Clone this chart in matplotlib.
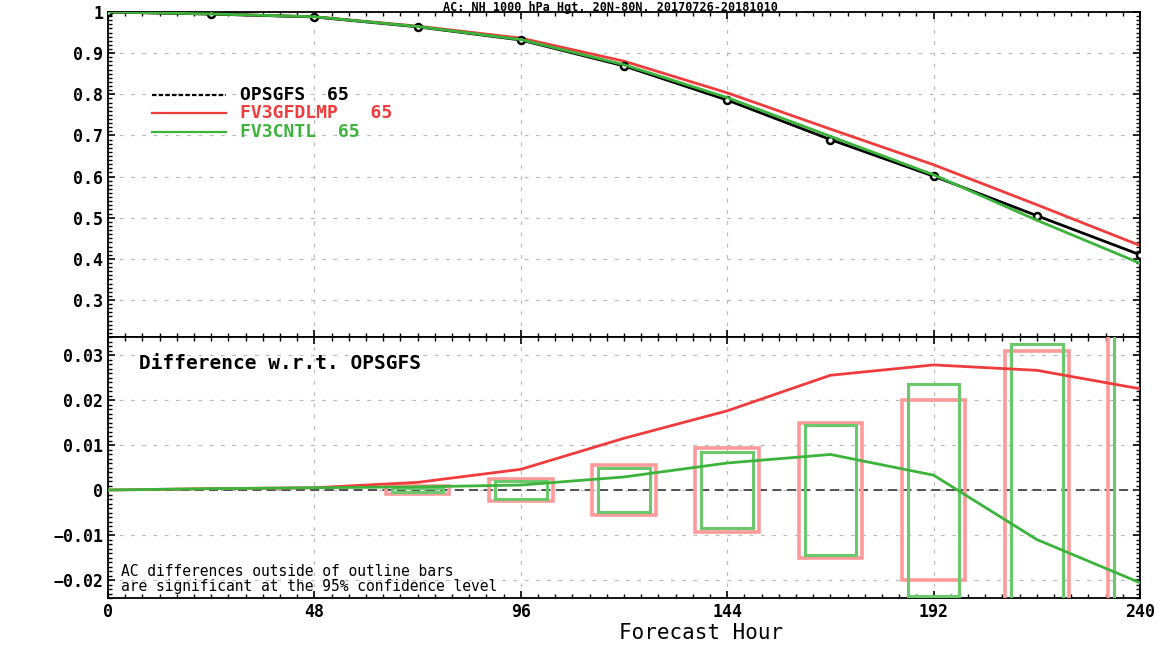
import numpy as np
import matplotlib.pyplot as plt
from matplotlib.patches import Rectangle
from matplotlib.ticker import MultipleLocator

hours = [0, 24, 48, 72, 96, 120, 144, 168, 192, 216, 240]
ops_ac = [1.0, 0.995, 0.988, 0.964, 0.932, 0.869, 0.786, 0.690, 0.601, 0.505, 0.410]
diff_fdl = [0.0, 0.0003, 0.0005, 0.0017, 0.0046, 0.0115, 0.0176, 0.0255, 0.0278, 0.0266, 0.0225]
diff_cntl = [0.0, 0.0003, 0.0005, 0.0007, 0.0011, 0.0029, 0.0060, 0.0079, 0.0033, -0.0110, -0.0206]

# confidence boxes (half heights), from hour 72 on
box_hours = [72, 96, 120, 144, 168, 192, 216, 240]
box_fdl = [0.0008, 0.0024, 0.0055, 0.0093, 0.0150, 0.0200, 0.0310, 0.0400]
box_cntl = [0.0005, 0.0020, 0.0048, 0.0085, 0.0145, 0.0235, 0.0325, 0.0400]

names = ['OPSGFS  65', 'FV3GFDLMP   65', 'FV3CNTL  65']
red = '#f03c3c'
green = '#3cb43c'

fdl_ac = np.array(ops_ac) + np.array(diff_fdl)
cntl_ac = np.array(ops_ac) + np.array(diff_cntl)

fig = plt.figure(figsize=(11.68, 6.46), dpi=100)
ax1 = fig.add_axes([0.0925, 0.4783, 0.976 - 0.0925, 0.9814 - 0.4783])
ax2 = fig.add_axes([0.0925, 0.0743, 0.976 - 0.0925, 0.4783 - 0.0743])

font = dict(family='DejaVu Sans Mono', weight='bold')

for ax in (ax1, ax2):
    ax.set_xlim(0, 240)
    ax.xaxis.set_major_locator(MultipleLocator(48))
    ax.grid(True, color='#bbbbbb', linestyle=(0, (3, 6)), linewidth=0.9)
    ax.tick_params(which='both', direction='in', top=True, right=True)
    ax.tick_params(which='major', length=5, width=1.2)
    ax.tick_params(which='minor', length=3, width=1)
    for s in ax.spines.values():
        s.set_linewidth(1.3)

# top panel
ax1.plot(hours, ops_ac, color='black', lw=2, marker='o', ms=5, mfc='white', mew=1.8, zorder=3)
ax1.plot(hours, fdl_ac, color=red, lw=2, zorder=2)
ax1.plot(hours, cntl_ac, color=green, lw=2, zorder=4)
ax1.set_ylim(0.21, 1.0)
ax1.set_yticks([0.3, 0.4, 0.5, 0.6, 0.7, 0.8, 0.9, 1.0])
ax1.set_yticklabels(['0.3', '0.4', '0.5', '0.6', '0.7', '0.8', '0.9', '1'], **font, fontsize=12)
ax1.yaxis.set_minor_locator(MultipleLocator(0.01))
ax1.xaxis.set_minor_locator(MultipleLocator(4))
ax1.set_xticklabels([])

# legend drawn by hand like the original
leg_y = [0.745, 0.689, 0.631]
leg_col = ['black', red, green]
leg_ls = ['--', '-', '-']
for y, c, ls, n in zip(leg_y, leg_col, leg_ls, names):
    ax1.plot([0.043, 0.114], [y, y], transform=ax1.transAxes, color=c, ls=ls, lw=1.6,
             dashes=(2, 1) if ls == '--' else (None, None))
    ax1.text(0.128, y, n, transform=ax1.transAxes, color=c, va='center', fontsize=13, **font)

# bottom panel
ax2.axhline(0, color='#444444', ls=(0, (5, 3)), lw=1.3, zorder=2)
for h, bf, bc in zip(box_hours, box_fdl, box_cntl):
    ax2.add_patch(Rectangle((h - 7.4, -bf), 14.8, 2 * bf, fill=False,
                            edgecolor='#ff9a9a', lw=2.6, zorder=3))
    ax2.add_patch(Rectangle((h - 6.0, -bc), 12.0, 2 * bc, fill=False,
                            edgecolor='#6cc86c', lw=2.2, zorder=3))
ax2.plot(hours, diff_fdl, color=red, lw=2, zorder=4)
ax2.plot(hours, diff_cntl, color=green, lw=2, zorder=5)
ax2.set_ylim(-0.024, 0.034)
ax2.set_yticks([-0.02, -0.01, 0, 0.01, 0.02, 0.03])
ax2.set_yticklabels(['\u22120.02', '\u22120.01', '0', '0.01', '0.02', '0.03'], **font, fontsize=12)
ax2.yaxis.set_minor_locator(MultipleLocator(0.001))
ax2.xaxis.set_minor_locator(MultipleLocator(4))
ax2.set_xticks(hours[::2])
ax2.set_xticklabels(['0', '48', '96', '144', '192', '240'], **font, fontsize=12)
ax2.text(0.03, 0.935, 'Difference w.r.t. OPSGFS', transform=ax2.transAxes,
         va='top', fontsize=14, **font)
ax2.text(0.013, 0.1, 'AC differences outside of outline bars', transform=ax2.transAxes,
         va='center', fontsize=10.5, family='DejaVu Sans Mono')
ax2.text(0.013, 0.045, 'are significant at the 95% confidence level', transform=ax2.transAxes,
         va='center', fontsize=10.5, family='DejaVu Sans Mono')

fig.text(701 / 1168, 1 - 633 / 646, 'Forecast Hour', ha='center', va='center',
         fontsize=15, family='DejaVu Sans Mono')
fig.text(610 / 1168, 0.999, 'AC: NH 1000 hPa Hgt, 20N-80N, 20170726-20181010',
         ha='center', va='top', fontsize=8.5, **font)

fig.savefig('out.png', dpi=100)
